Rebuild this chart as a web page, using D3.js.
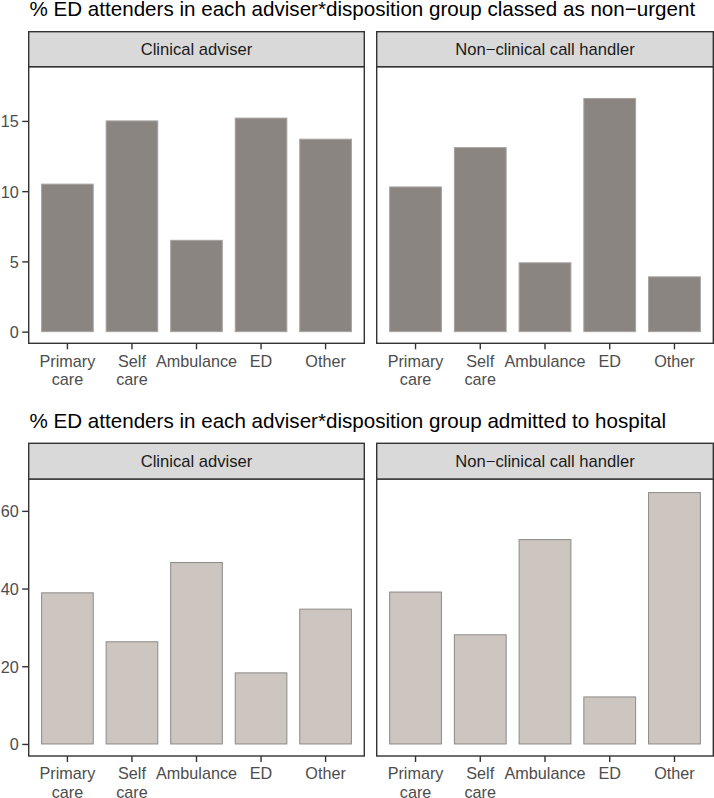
<!DOCTYPE html>
<html>
<head>
<meta charset="utf-8">
<script src="https://cdn.jsdelivr.net/npm/d3@7"></script>
<style>
  html, body { margin: 0; padding: 0; background: #fff; }
  svg { display: block; font-family: "Liberation Sans", Arial, Helvetica, sans-serif; }
</style>
</head>
<body>
<svg id="chart" width="714" height="798"></svg>
<script>
// ---- data ----
const categories = ["Primary care", "Self care", "Ambulance", "ED", "Other"];
const categoryLabels = ["Primary\ncare", "Self\ncare", "Ambulance", "ED", "Other"];
const advisers = ["Clinical adviser", "Non\u2212clinical call handler"];

const nonUrgentClinical = [10.5, 15.0, 6.5, 15.2, 13.7];
const nonUrgentNonClinical = [10.3, 13.1, 4.9, 16.6, 3.9];
const admittedClinical = [38.9, 26.3, 46.7, 18.3, 34.7];
const admittedNonClinical = [39.1, 28.1, 52.6, 12.1, 64.7];

const nonUrgentTicks = [0, 5, 10, 15];
const admittedTicks = [0, 20, 40, 60];
const nonUrgentDomain = [-0.83, 18.86];
const admittedDomain = [-3.1, 68.2];

const titles = [
  "% ED attenders in each adviser*disposition group classed as non\u2212urgent",
  "% ED attenders in each adviser*disposition group admitted to hospital"
];

// ---- layout ----
const svg = d3.select("#chart");
const panelsX = [[28.7, 364.3], [376.7, 713.3]];

const charts = [
  { title: titles[0], titleY: 16.3, stripTop: 31.7, stripBot: 66.7, panelBot: 343.3,
    series: [nonUrgentClinical, nonUrgentNonClinical], ticks: nonUrgentTicks, domain: nonUrgentDomain,
    fill: "#8a8580", stroke: "#a6a29f" },
  { title: titles[1], titleY: 428.3, stripTop: 443.3, stripBot: 479, panelBot: 756,
    series: [admittedClinical, admittedNonClinical], ticks: admittedTicks, domain: admittedDomain,
    fill: "#cdc6c0", stroke: "#8c8986" }
];

charts.forEach(c => {
  svg.append("text")
    .attr("x", 29.5).attr("y", c.titleY)
    .attr("font-size", 20.6).attr("fill", "#000")
    .text(c.title);

  const y = d3.scaleLinear().domain(c.domain).range([c.panelBot, c.stripBot]);

  advisers.forEach((adv, i) => {
    const [x0, x1] = panelsX[i];
    const x = d3.scaleBand().domain(categories).range([x0, x1]).paddingInner(0.2).paddingOuter(0.2);
    const g = svg.append("g");

    g.append("rect").attr("x", x0).attr("y", c.stripBot).attr("width", x1 - x0)
      .attr("height", c.panelBot - c.stripBot).attr("fill", "#fff");

    g.selectAll("rect.bar").data(c.series[i]).join("rect")
      .attr("class", "bar")
      .attr("x", (d, k) => x(categories[k]))
      .attr("width", x.bandwidth())
      .attr("y", d => y(d))
      .attr("height", d => y(0) - y(d))
      .attr("fill", c.fill)
      .attr("stroke", c.stroke)
      .attr("stroke-width", 1);

    g.append("rect").attr("x", x0).attr("y", c.stripBot).attr("width", x1 - x0)
      .attr("height", c.panelBot - c.stripBot).attr("fill", "none")
      .attr("stroke", "#333333").attr("stroke-width", 1.4);

    g.append("rect").attr("x", x0).attr("y", c.stripTop).attr("width", x1 - x0)
      .attr("height", c.stripBot - c.stripTop).attr("fill", "#d9d9d9")
      .attr("stroke", "#333333").attr("stroke-width", 1.4);
    g.append("text")
      .attr("x", (x0 + x1) / 2).attr("y", (c.stripTop + c.stripBot) / 2 + 5.8)
      .attr("text-anchor", "middle").attr("font-size", 16.6).attr("fill", "#1a1a1a")
      .text(adv);

    const xAxis = g.append("g").attr("transform", `translate(0,${c.panelBot})`)
      .call(d3.axisBottom(x).tickSize(6).tickSizeOuter(0).tickFormat(() => ""));
    xAxis.select(".domain").remove();
    xAxis.selectAll(".tick line").attr("stroke", "#333333").attr("stroke-width", 1.4);
    xAxis.selectAll(".tick").each(function (d, k) {
      const t = d3.select(this).append("text")
        .attr("text-anchor", "middle").attr("font-size", 16.2).attr("fill", "#4d4d4d");
      categoryLabels[k].split("\n").forEach((line, li) => {
        t.append("tspan").attr("x", 0).attr("y", 23.4 + li * 18.3).text(line);
      });
    });

    if (i === 0) {
      const yAxis = g.append("g").attr("transform", `translate(${x0},0)`)
        .call(d3.axisLeft(y).tickValues(c.ticks).tickSize(6.5).tickPadding(3.5));
      yAxis.select(".domain").remove();
      yAxis.selectAll(".tick line").attr("stroke", "#333333").attr("stroke-width", 1.4);
      yAxis.selectAll(".tick text").attr("font-size", 16.2).attr("fill", "#4d4d4d")
        .attr("font-family", "Liberation Sans, Arial, sans-serif").attr("dy", "0.36em");
    }
  });
});
</script>
</body>
</html>
